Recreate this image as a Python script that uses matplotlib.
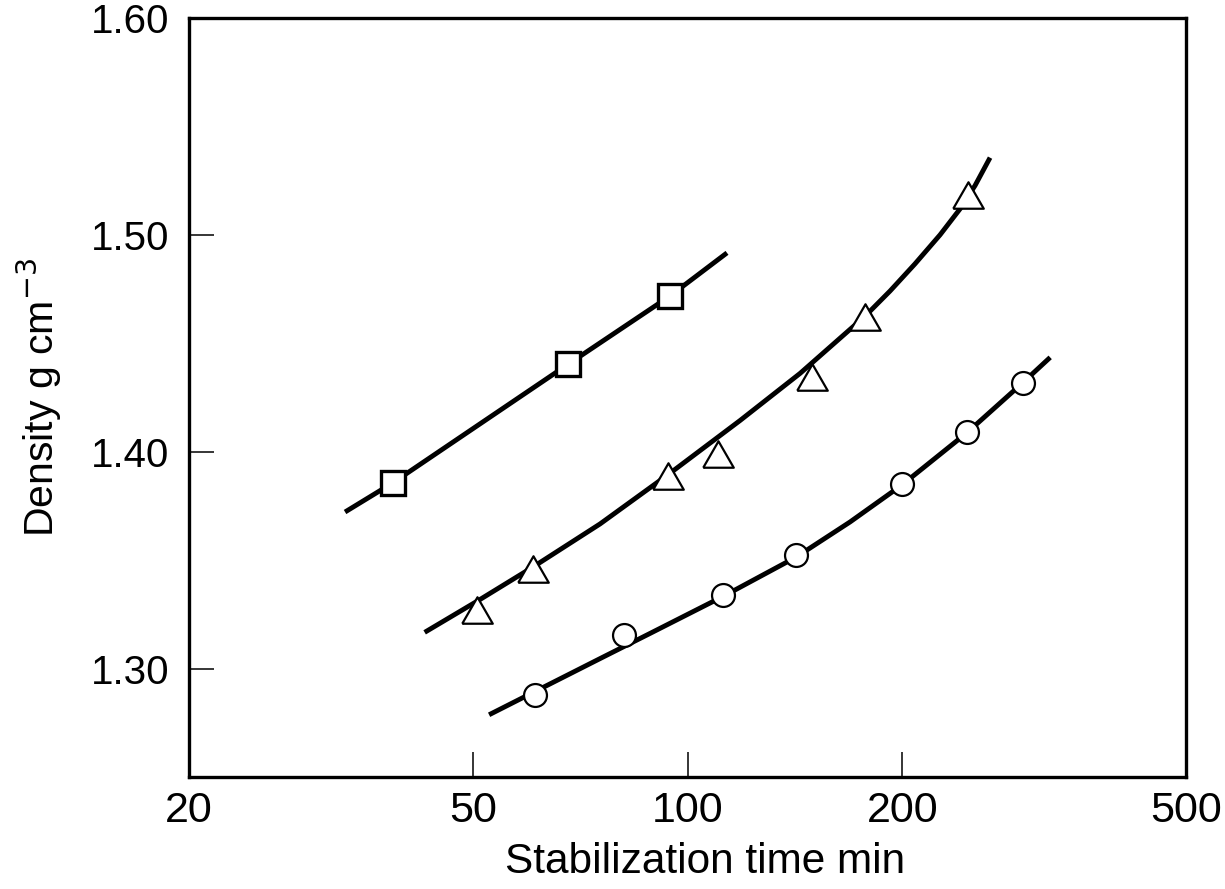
import numpy as np
import matplotlib
matplotlib.use("Agg")
import matplotlib.pyplot as plt
from matplotlib.ticker import FixedLocator, FixedFormatter, NullLocator

plt.rcParams["font.family"] = ["Liberation Sans", "DejaVu Sans"]

# measured points (stabilization time in min, density in g/cm3)
sq_time = [38.6, 68.0, 94.5]
sq_dens = [1.3856, 1.4403, 1.4718]
tri_time = [50.7, 60.7, 93.9, 110.3, 149.5, 177.4, 247.4]
tri_dens = [1.3269, 1.3458, 1.3889, 1.3991, 1.4343, 1.4620, 1.5185]
circ_time = [61.1, 81.5, 112.2, 142.0, 199.9, 246.6, 295.4]
circ_dens = [1.288, 1.3153, 1.3338, 1.3523, 1.3852, 1.4093, 1.4319]

# fitted curves
sq_line_t = [33.1, 38.6, 68.0, 94.5, 113.6]
sq_line_d = [1.3722, 1.3856, 1.4403, 1.4718, 1.4917]
tri_line_t = [42.8, 51.2, 60.7, 75.4, 93.9, 118.5, 143.8, 177.4,
              192.3, 208.4, 226.0, 241.1, 253.0, 265.6]
tri_line_d = [1.3167, 1.3319, 1.3468, 1.3667, 1.3894, 1.4144, 1.4361, 1.4625,
              1.4741, 1.4866, 1.5000, 1.5120, 1.5227, 1.5356]
circ_line_t = [52.7, 61.1, 75.4, 88.6, 112.2, 142.0, 169.0, 199.9, 246.6, 295.4, 322.5]
circ_line_d = [1.2787, 1.2894, 1.3046, 1.3162, 1.3333, 1.3514, 1.3676, 1.3847, 1.4088, 1.4319, 1.4435]

x_ticks = [20, 50, 100, 200, 500]
y_ticks = [1.30, 1.40, 1.50, 1.60]

fig = plt.figure(figsize=(12.25, 8.89), dpi=100)
ax = fig.add_axes([189 / 1225, 1 - 777 / 889, (1186 - 189) / 1225, (777 - 18) / 889])

lw = 3.5
for t, d in [(sq_line_t, sq_line_d), (tri_line_t, tri_line_d), (circ_line_t, circ_line_d)]:
    ax.plot(t, d, color="black", lw=lw, solid_capstyle="butt", solid_joinstyle="round", zorder=2)

tri_marker = [(-1, -0.866), (1, -0.866), (0, 0.866), (-1, -0.866)]
ax.plot(sq_time, sq_dens, ls="none", marker="s", ms=17, mfc="white", mec="black", mew=2.4, zorder=3)
ax.plot(tri_time, tri_dens, ls="none", marker=tri_marker, ms=22, mfc="white", mec="black", mew=1.6, zorder=3)
ax.plot(circ_time, circ_dens, ls="none", marker="o", ms=16.5, mfc="white", mec="black", mew=1.6, zorder=3)

ax.set_xscale("log")
ax.set_xlim(20, 500)
ax.set_ylim(1.25, 1.60)
ax.xaxis.set_major_locator(FixedLocator(x_ticks))
ax.xaxis.set_major_formatter(FixedFormatter([str(t) for t in x_ticks]))
ax.xaxis.set_minor_locator(NullLocator())
ax.yaxis.set_major_locator(FixedLocator(y_ticks))
ax.yaxis.set_major_formatter(FixedFormatter([f"{t:.2f}" for t in y_ticks]))

ax.tick_params(direction="in", length=18, width=1.1, pad=12)
ax.tick_params(axis="x", labelsize=31, pad=10)
ax.tick_params(axis="y", labelsize=29, pad=14)
for s in ax.spines.values():
    s.set_linewidth(2.4)

ax.set_xlabel("Stabilization time min", fontsize=30.5)
ax.xaxis.set_label_coords(0.518, -0.085)
ax.set_ylabel("Density g cm$^{-3}$", fontsize=29.5)
ax.yaxis.set_label_coords(-0.125, 0.5)

fig.savefig("out.png", dpi=100)
